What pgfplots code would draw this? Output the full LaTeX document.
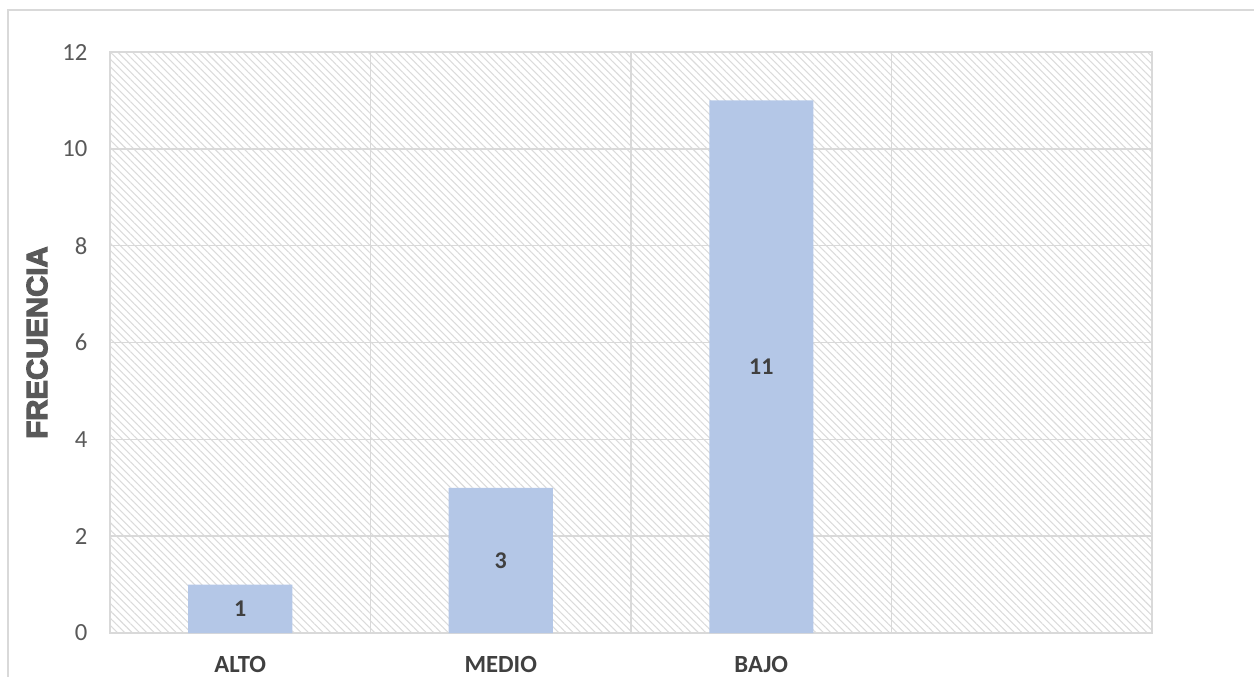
\documentclass[border=0pt]{standalone}
\usepackage{pgfplots}
\pgfplotsset{compat=1.18}
\usepackage{fontspec}
\setmainfont{Carlito}
\newfontfamily\labfont[FakeBold=4]{Liberation Sans Bold}
\usetikzlibrary{patterns.meta}
\definecolor{txt}{HTML}{595959}
\definecolor{bartxt}{HTML}{404040}
\definecolor{gridc}{HTML}{D9D9D9}
\definecolor{barc}{HTML}{B4C7E7}
\begin{document}
\begin{tikzpicture}
\useasboundingbox (0,0) rectangle (940.5pt,-507.75pt);
\draw[gridc, line width=1pt] (6pt,-520pt) -- (6pt,-7.5pt) -- (960pt,-7.5pt);
\begin{axis}[
  at={(82.5pt,-474.75pt)}, anchor=south west,
  scale only axis, width=781.5pt, height=435.75pt,
  xmin=0, xmax=4, ymin=0, ymax=12,
  ytick={0,2,...,12},
  xtick={0.5,1.5,2.5},
  xticklabels={ALTO,MEDIO,BAJO},
  minor xtick={1,2,3},
  minor x grid style={gridc, line width=1.1pt},
  xminorgrids, ymajorgrids,
  major grid style={gridc, line width=1.1pt},
  axis line style={gridc, line width=1.1pt},
  major tick length=0pt, minor tick length=0pt,
  /pgf/number format/assume math mode=true,
  tick label style={font=\fontsize{18.5}{20}\selectfont, text=txt},
  xticklabel style={font=\fontsize{18.5}{20}\selectfont\bfseries, text=bartxt, anchor=center, yshift=-23.5pt},
  yticklabel style={xshift=-13.5pt},
  ylabel={FRECUENCIA},
  ylabel style={at={(axis description cs:-0.07,0.5)}, anchor=center, font=\labfont\fontsize{22}{24}\selectfont, text=txt},
  axis background/.style={pattern={Lines[angle=-45,distance=3.9pt,line width=0.8pt]}, pattern color=gray!28},
]
\addplot[ybar, bar width=78pt, fill=barc, draw=none] coordinates {(0.5,1) (1.5,3) (2.5,11)};
\addplot[only marks, mark=none, nodes near coords, point meta=explicit symbolic,
  every node near coord/.append style={anchor=center, font=\fontsize{18}{20}\selectfont\bfseries, text=bartxt}]
  coordinates {(0.5,0.5) [1] (1.5,1.5) [3] (2.5,5.5) [11]};
\end{axis}
\end{tikzpicture}
\end{document}
